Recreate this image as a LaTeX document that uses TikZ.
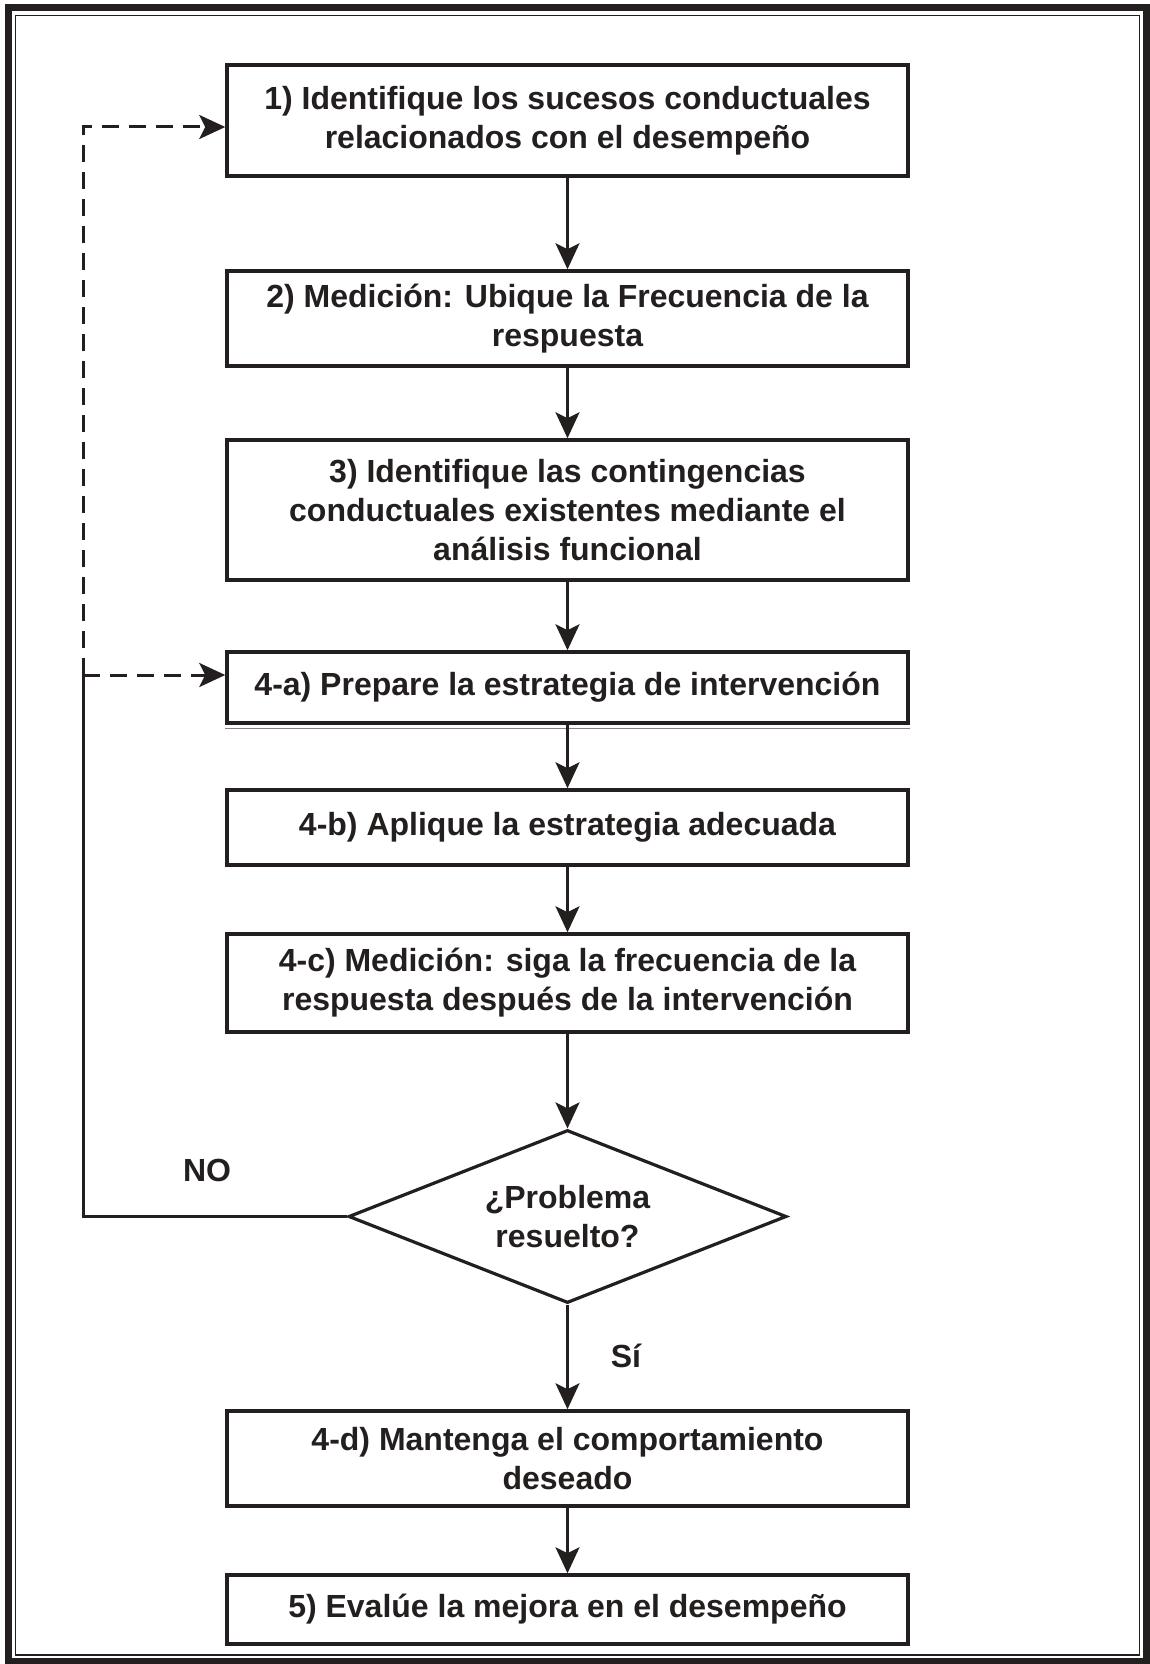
\documentclass[tikz,border=0pt]{standalone}
\usepackage{fontspec}
\setmainfont{Liberation Sans}
\usetikzlibrary{shapes.geometric,arrows.meta,calc}
\definecolor{ink}{RGB}{34,31,30}

\begin{document}
\begin{tikzpicture}[x=1pt,y=-1pt,
  txt/.style={font=\bfseries\fontsize{32}{39}\selectfont,text=ink},
  stepbox/.style={txt,draw=ink,line width=3.5pt,rectangle,minimum width=681pt,
    inner sep=0pt,align=center},
  decision/.style={txt,draw=ink,line width=3.2pt,diamond,aspect=2.53,
    minimum width=438pt,minimum height=173pt,inner sep=0pt,align=center},
  tip/.style={-{Stealth[length=26pt,width=24pt,inset=6pt]}},
  flow/.style={draw=ink,line width=3pt,tip},
  loopline/.style={draw=ink,line width=3pt},
  loopdash/.style={loopline,dash pattern=on 17pt off 10pt},
  tag/.style={txt}]

\useasboundingbox (0,0) rectangle (1150,1664);
\fill[white] (0,0) rectangle (1150,1664);

% double frame
\draw[ink,line width=7pt] (8,8) rectangle (1146,1661);
\draw[ink,line width=1.5pt] (15.5,15.5) rectangle (1139.5,1655);

% steps
\node[stepbox,minimum height=111pt] (s1) at (567.5,120.5)
  {1) Identifique los sucesos conductuales\\relacionados con el desempeño};
\node[stepbox,minimum height=95pt] (s2) at (567.5,318.5)
  {2) Medición: Ubique la Frecuencia de la\\respuesta};
\node[stepbox,minimum height=140pt] (s3) at (567.5,510)
  {3) Identifique las contingencias\\conductuales existentes mediante el\\análisis funcional};
\node[stepbox,minimum height=71pt] (s4a) at (567.5,687.5)
  {4-a) Prepare la estrategia de intervención};
\node[stepbox,minimum height=75pt] (s4b) at (567.5,827.5)
  {4-b) Aplique la estrategia adecuada};
\node[stepbox,minimum height=98pt] (s4c) at (567.5,983)
  {4-c) Medición: siga la frecuencia de la\\respuesta después de la intervención};
\node[decision] (q) at (567.5,1216.5) {¿Problema\\resuelto?};
\node[stepbox,minimum height=95pt] (s4d) at (567.5,1458.5)
  {4-d) Mantenga el comportamiento\\deseado};
\node[stepbox,minimum height=69pt] (s5) at (567.5,1609.5)
  {5) Evalúe la mejora en el desempeño};

% shadow line under step 4-a
\draw[ink!55,line width=1.2pt] ([yshift=-3.5pt]s4a.south west) -- ([yshift=-3.5pt]s4a.south east);

% main flow
\draw[flow] (s1.south) -- (s2.north);
\draw[flow] (s2.south) -- (s3.north);
\draw[flow] (s3.south) -- (s4a.north);
\draw[flow] (s4a.south) -- (s4b.north);
\draw[flow] (s4b.south) -- (s4c.north);
\draw[flow] (s4c.south) -- (q.north);
\draw[flow] (q.south) -- (s4d.north);
\draw[flow] (s4d.south) -- (s5.north);

% feedback loop
\coordinate (rail) at (83,0);
\coordinate (t1) at ([yshift=-6.5pt]s1.west);
\coordinate (ta) at ([yshift=12.5pt]s4a.west);
\draw[loopline] (q.west) -| (ta -| rail);
\draw[loopdash,tip] (ta -| rail) -- (ta);
\draw[loopdash,tip] (ta -| rail) |- (t1);

% branch labels
\node[tag] (no) at (207,1170) {NO};
\node[tag] (si) at (626,1356) {Sí};
\end{tikzpicture}
\end{document}
